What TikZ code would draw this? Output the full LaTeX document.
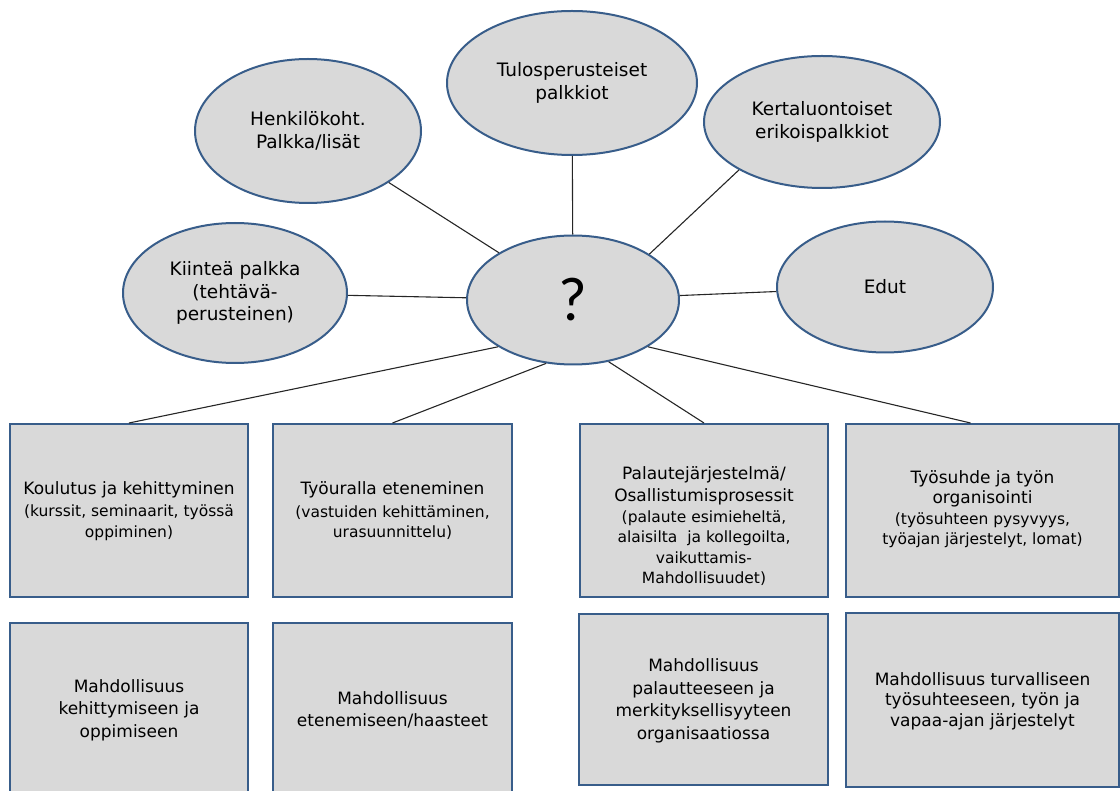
\documentclass[tikz,border=0pt]{standalone}
\usepackage{fontspec}
\setmainfont{DejaVu Sans}
\newfontfamily\qfont{Carlito}
\usetikzlibrary{shapes.geometric,calc}
\definecolor{edgeblue}{HTML}{385D8A}
\definecolor{fillgray}{HTML}{D9D9D9}
\newcommand\smalltxt{\fontsize{15.5}{20}\selectfont}
\begin{document}
\begin{tikzpicture}[x=1pt,y=-1pt,
  oval/.style={ellipse, draw=edgeblue, fill=fillgray, line width=2pt, inner sep=0pt,
    align=center, font=\fontsize{18.5}{22.5}\selectfont},
  box/.style={rectangle, draw=edgeblue, fill=fillgray, line width=2pt, inner sep=0pt},
  txt/.style={align=center, inner sep=0pt, font=\fontsize{17}{20.5}\selectfont},
  txtb/.style={align=center, inner sep=0pt, font=\fontsize{17}{22.5}\selectfont},
  link/.style={draw=black!85, line width=1.1pt}]
\useasboundingbox (0,0) rectangle (1120,791);
\clip (0,0) rectangle (1120,791);

% ellipses
\node[oval, minimum width=250pt, minimum height=144pt] (tulos) at (572,83) {Tulosperusteiset\\palkkiot};
\node[oval, minimum width=226pt, minimum height=144pt] (henk) at (308,131) {Henkilökoht.\\Palkka/lisät};
\node[oval, minimum width=236pt, minimum height=132pt] (kert) at (822,122) {Kertaluontoiset\\erikoispalkkiot};
\node[oval, minimum width=224pt, minimum height=140pt] (kiint) at (235,293) {Kiinteä palkka\\(tehtävä-\\perusteinen)};
\node[oval, minimum width=216pt, minimum height=131pt] (edut) at (885,287) {Edut};
\node[oval, minimum width=212pt, minimum height=129pt, font=\qfont\fontsize{62}{66}\selectfont] (q) at (573,300) {?};

% boxes, row 1
\node[box, minimum width=238pt, minimum height=173pt] (b1) at (129,510.5) {};
\node[box, minimum width=239pt, minimum height=173pt] (b2) at (392.5,510.5) {};
\node[box, minimum width=248pt, minimum height=173pt] (b3) at (704,510.5) {};
\node[box, minimum width=273pt, minimum height=173pt] (b4) at (982.5,510.5) {};
% boxes, row 2
\node[box, minimum width=238pt, minimum height=177pt] (b5) at (129,711.5) {};
\node[box, minimum width=239pt, minimum height=177pt] (b6) at (392.5,711.5) {};
\node[box, minimum width=249pt, minimum height=171pt] (b7) at (703.5,699.5) {};
\node[box, minimum width=273pt, minimum height=174pt] (b8) at (982.5,700) {};

% box texts
\node[txt] (t1) at (129,511) {Koulutus ja kehittyminen\\[2pt]\smalltxt(kurssit, seminaarit, työssä\\\smalltxt oppiminen)};
\node[txt] (t2) at (392.5,511) {Työuralla eteneminen\\[2pt]\smalltxt(vastuiden kehittäminen,\\\smalltxt urasuunnittelu)};
\node[txt] (t3) at (704,526) {Palautejärjestelmä/\\[2pt]Osallistumisprosessit\\\smalltxt(palaute esimieheltä,\\\smalltxt alaisilta\ \ ja kollegoilta,\\\smalltxt vaikuttamis-\\\smalltxt Mahdollisuudet)};
\node[txt] (t4) at (982.5,509) {Työsuhde ja työn\\organisointi\\\smalltxt(työsuhteen pysyvyys,\\\smalltxt työajan järjestelyt, lomat)};
\node[txtb] (t5) at (129,710) {Mahdollisuus\\kehittymiseen ja\\oppimiseen};
\node[txtb] (t6) at (392.5,710) {Mahdollisuus\\etenemiseen/haasteet};
\node[txtb] (t7) at (703.5,701) {Mahdollisuus\\palautteeseen ja\\merkityksellisyyteen\\organisaatiossa};
\node[txt] (t8) at (982.5,701) {Mahdollisuus turvalliseen\\työsuhteeseen, työn ja\\vapaa-ajan järjestelyt};

% connectors
\draw[link] (tulos) -- (q);
\draw[link] (henk) -- (q);
\draw[link] (kiint) -- (q);
\draw[link] (kert.210) -- (q.31);
\draw[link] (q) -- (edut);
\draw[link] (q.212) -- (b1.north);
\draw[link] (q.247) -- (b2.north);
\draw[link] (q.300) -- (b3.north);
\draw[link] (q.328) -- ([xshift=-12pt]b4.north);
\end{tikzpicture}
\end{document}
